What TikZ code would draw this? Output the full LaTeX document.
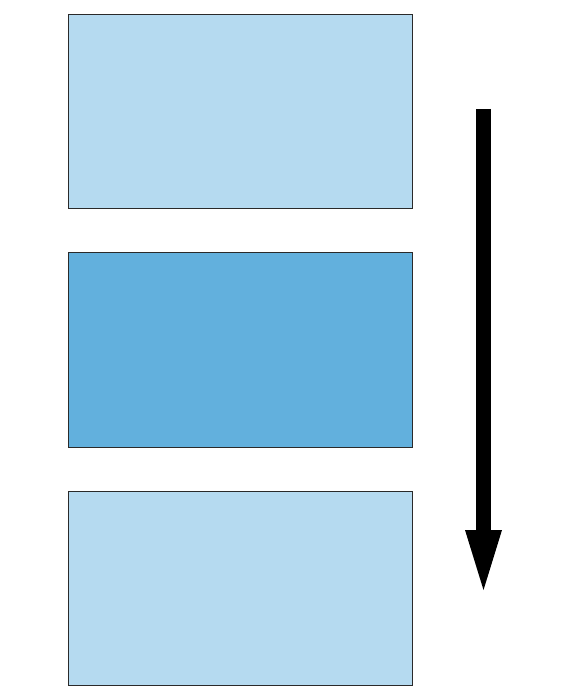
\documentclass[tikz,border=0pt]{standalone}
\usetikzlibrary{arrows.meta}
\definecolor{lightblue}{HTML}{B5DAF0}
\definecolor{midblue}{HTML}{62B0DD}
\definecolor{edgegray}{HTML}{2A2A2A}
\begin{document}
\begin{tikzpicture}[x=1pt,y=-1pt,
  panel/.style={draw=edgegray,line width=1pt,minimum width=344pt,minimum height=194pt,inner sep=0pt,outer sep=0pt},
  flowarrow/.style={line width=15pt,-{Triangle[length=60pt,width=37pt,line width=0pt]},black}]
\useasboundingbox (0,0) rectangle (560,700);
\node[panel,fill=lightblue,anchor=north west] (top) at (68,14.5) {};
\node[panel,fill=midblue,anchor=north west] (mid) at (68,253) {};
\node[panel,fill=lightblue,anchor=north west] (bot) at (68,491.5) {};
\coordinate (astart) at (483.5,109);
\coordinate (aend) at (483.5,590);
\draw[flowarrow] (astart) -- (aend);
\end{tikzpicture}
\end{document}
